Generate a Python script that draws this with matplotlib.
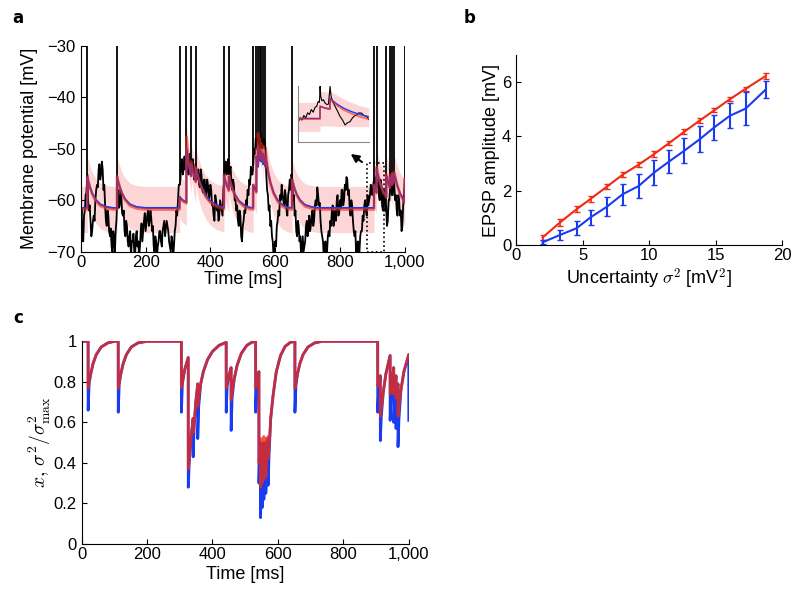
import numpy as np
import matplotlib
matplotlib.use('Agg')
import matplotlib.pyplot as plt
from matplotlib.patches import Rectangle

plt.rcParams['font.family'] = ['Liberation Sans', 'DejaVu Sans']
plt.rcParams['mathtext.fontset'] = 'cm'
plt.rcParams['xtick.direction'] = 'in'
plt.rcParams['ytick.direction'] = 'in'
plt.rcParams['xtick.labelsize'] = 12
plt.rcParams['ytick.labelsize'] = 12
plt.rcParams['xtick.major.pad'] = 2.5

# spike times [ms]
spike_t = [20, 112, 305, 326, 341, 355, 442, 457, 532, 542, 547, 552, 557, 563, 570,
           652, 905, 913, 943, 954, 961, 967, 1000]

# membrane potential, samples at 0, 5, ..., 1000 ms
vm_t = list(range(0, 1001, 5))
vm = [-64, -67, -63, -59, -55, -62, -64, -66, -63, -60, -57, -54, -56, -52.5, -58, -61, -65, -63, -67, -69,
      -66, -71, -64, -58, -61, -59, -63, -66, -64, -68, -67, -71, -68, -70, -67, -69, -71, -66, -68, -64,
      -66, -63, -65, -62, -66, -69, -67, -71, -68, -66, -69, -65, -67, -64, -66, -69, -67, -71, -66, -62,
      -60, -57, -53, -55, -51.5, -52, -54, -51, -55, -52, -56, -53, -55, -57, -54, -58, -56, -59, -56, -60,
      -57, -61, -63, -59, -62, -64, -60, -62, -58, -53, -55, -52, -54, -57, -56, -60, -62, -64, -62, -67,
      -65, -62, -60, -58, -56, -53.5, -55, -50, -48, -47, -49, -47, -50, -48, -50, -58, -62, -65, -67, -71,
      -68, -65, -62, -59, -57, -60, -58, -62, -59, -56, -55, -60, -63, -66, -64, -68, -71, -67, -69, -65,
      -67, -63, -65, -62, -64, -60, -57.5, -61, -64, -67, -71, -68, -70, -66, -64, -62, -65, -62, -60, -63,
      -60, -58, -61, -57, -55.5, -59, -62, -60, -64, -67, -71, -68, -70, -66, -63, -61, -62, -59, -60, -57,
      -59, -56, -58, -55, -59, -56, -61, -58, -62, -65, -60, -57, -59, -56, -60, -62, -59, -63, -66, -61,
      -56]
# samples in between, at 2.5, 7.5, ..., 997.5 ms
vm_mid = [-61.5, -68, -62, -58.5, -60, -61, -67, -64, -64, -58, -57.5, -53, -55, -54, -57, -64, -62, -66, -65.5, -70,
          -67, -66, -60, -61.5, -58, -62.5, -62, -67, -65, -69, -66, -68, -66.5, -71, -66, -68, -69, -64.5, -66, -62.5,
          -64.5, -62, -64, -63.5, -65, -70, -68, -69, -66, -68, -66, -64, -65.5, -65, -68, -70, -68, -69, -65, -63,
          -57, -56, -52, -54, -54, -52, -55, -53, -54, -53, -55.5, -56, -54, -57.5, -55, -58.5, -56, -58.5, -57, -59,
          -58, -61, -64, -60, -61, -63, -61, -63, -56, -52.5, -54.5, -55, -53.5, -58, -57, -60, -61, -65, -63, -68,
          -64, -62.5, -61, -59, -57, -55, -53, -51, -50, -48, -50, -48.5, -49.5, -49, -55, -59, -61, -64, -68, -69,
          -69, -64, -63, -60, -59, -61, -59, -63, -58, -58, -56, -59, -62, -67, -65, -67, -69, -70, -68, -64,
          -66, -66, -63, -65, -61, -61, -59, -60.5, -66, -68, -69, -71, -67, -67, -65, -61, -63, -64, -59, -62.5,
          -61.5, -58, -60, -58, -56, -58, -63, -61, -66, -66, -69, -71, -67, -66, -64, -60, -63, -61, -59, -58.5,
          -57, -55.5, -57.5, -56, -60, -57, -62, -59, -61, -64, -60, -56, -59, -57, -59, -63, -60, -62, -65, -59]

# filter output: time grid, mean (blue/red) in panel a, x and sigma^2/sigma^2_max in panel c
filt_t = [0, 19.9, 20, 23, 28, 35, 45, 60, 80, 100, 111.9, 112, 115, 120, 127, 137, 152, 172, 200,
          304.9, 305, 308, 315, 325.9, 326, 329, 334, 340.9, 341, 344, 349, 354.9, 355, 358, 364, 372,
          385, 400, 420, 441.9, 442, 445, 450, 456.9, 457, 460, 466, 475, 488, 505, 520, 531.9, 532, 535,
          541.9, 542, 544, 546.9, 547, 549, 551.9, 552, 554, 556.9, 557, 559, 562.9, 563, 565, 569.9, 570,
          573, 578, 585, 595, 608, 622, 638, 651.9, 652, 655, 660, 667, 677, 692, 712, 735, 904.9, 905,
          908, 912.9, 913, 916, 922, 930, 942.9, 943, 946, 950, 953.9, 954, 957, 960.9, 961, 964, 966.9,
          967, 970, 976, 985, 999.9, 1000]
mean_blue = [-61.5, -61.5, -55.6, -56.3, -57.4, -58.6, -59.8, -60.8, -61.3, -61.5, -61.5, -55.6, -56.3,
             -57.4, -58.6, -59.8, -60.8, -61.3, -61.5, -61.5, -59.3, -59.6, -60.0, -60.4, -50.0, -51.5,
             -53.5, -55.3, -53.0, -53.8, -55.0, -56.3, -53.8, -54.5, -55.8, -57.3, -59.0, -60.2, -61.0,
             -61.4, -55.3, -56.0, -57.0, -58.0, -55.4, -56.1, -57.4, -58.8, -60.1, -61.0, -61.4, -61.5,
             -57.0, -57.5, -58.3, -51.5, -52.5, -53.5, -49.5, -50.8, -52.3, -50.0, -51.0, -52.5, -50.5,
             -51.5, -53.0, -51.0, -51.8, -53.5, -51.5, -52.5, -54.5, -56.5, -58.5, -60.0, -60.9, -61.4,
             -61.5, -56.1, -56.8, -57.8, -58.9, -60.0, -60.9, -61.3, -61.5, -61.5, -57.2, -57.8, -58.5,
             -54.0, -54.8, -56.3, -57.8, -59.3, -55.3, -56.0, -56.8, -57.5, -55.5, -56.2, -57.0, -55.0,
             -55.8, -56.5, -54.8, -55.5, -57.0, -58.6, -60.3, -56.0]
mean_red = [-61.8, -61.8, -55.4, -56.2, -57.4, -58.8, -60.0, -61.1, -61.6, -61.8, -61.8, -55.4, -56.2,
            -57.4, -58.8, -60.0, -61.1, -61.6, -61.8, -61.8, -59.5, -59.8, -60.2, -60.6, -47.7, -50.0,
            -53.0, -55.3, -52.5, -53.5, -55.0, -56.5, -53.5, -54.4, -56.0, -57.6, -59.3, -60.5, -61.3,
            -61.7, -55.1, -55.9, -57.0, -58.2, -55.2, -56.1, -57.5, -59.0, -60.4, -61.3, -61.7, -61.8,
            -57.0, -57.5, -58.5, -50.0, -51.5, -53.0, -47.0, -49.5, -51.5, -48.0, -49.8, -52.0, -49.0,
            -50.5, -52.5, -49.5, -51.0, -53.3, -50.5, -52.0, -54.5, -56.7, -58.7, -60.3, -61.2, -61.7,
            -61.8, -56.0, -56.7, -57.9, -59.1, -60.2, -61.2, -61.6, -61.8, -61.8, -57.0, -57.8, -58.6,
            -53.5, -54.5, -56.3, -58.0, -59.5, -55.0, -55.8, -56.8, -57.6, -55.2, -56.1, -57.0, -54.8,
            -55.6, -56.5, -54.5, -55.3, -57.0, -58.8, -60.6, -55.8]
x_red = [1, 1, .77, .80, .84, .89, .935, .972, .992, 1, 1, .77, .80, .84, .89, .935, .972, .992, 1,
         1, .77, .80, .86, .92, .37, .42, .52, .62, .55, .60, .70, .79, .68, .72, .79, .85,
         .91, .95, .98, .995, .77, .80, .83, .87, .71, .75, .81, .88, .94, .98, .995, 1, .77, .80,
         .85, .40, .45, .52, .28, .36, .50, .30, .40, .53, .32, .42, .52, .33, .42, .53, .42,
         .48, .62, .73, .85, .93, .975, .995, 1, .77, .80, .84, .89, .935, .972, .992, 1, 1, .78,
         .80, .83, .63, .67, .75, .84, .93, .74, .77, .82, .87, .74, .78, .83, .72, .76, .79,
         .63, .68, .76, .85, .935, .93]
s_blue = [1, 1, .66, .79, .84, .89, .935, .972, .992, 1, 1, .65, .79, .84, .89, .935, .972, .992, 1,
          1, .65, .79, .86, .92, .28, .40, .52, .62, .43, .58, .70, .79, .52, .68, .79, .85,
          .91, .95, .98, .995, .65, .78, .83, .87, .56, .72, .81, .88, .94, .98, .995, 1, .65, .78,
          .85, .30, .42, .50, .13, .30, .48, .18, .33, .50, .22, .36, .50, .25, .36, .52, .29,
          .44, .62, .73, .85, .93, .975, .995, 1, .65, .78, .84, .89, .935, .972, .992, 1, 1, .65,
          .76, .83, .51, .63, .75, .84, .93, .61, .73, .82, .87, .60, .72, .83, .57, .70, .79,
          .48, .62, .76, .85, .935, .61]
sigma2_max = 20.0  # mV^2

# inset (zoom of dotted box)
ins_t = [887.7, 889, 890.5, 892, 893.5, 895, 896.5, 898, 899.5, 901, 902.3, 903.5, 904.5, 905, 905.5,
         906.5, 907.7, 909, 910.5, 911.7, 913, 913.8, 915, 917, 919, 921, 923, 925, 927, 929, 931,
         933, 934.3, 936, 938.3, 940, 942.3, 944]
ins_v = [-63.7, -62.5, -63.2, -61.8, -62.6, -61.0, -61.5, -60.0, -60.8, -59.3, -59.0, -57.5, -57.8,
         -52.9, -56.0, -57.3, -57.0, -58.0, -58.5, -58.3, -52.9, -56.0, -57.5, -59.0, -60.5, -62.1,
         -63.2, -64.7, -64.0, -63.7, -62.5, -61.8, -61.6, -61.0, -61.1, -61.8, -62.1, -63.0]
ins_ft = [887.7, 904.9, 905, 909, 912.9, 913, 918, 924, 930, 937, 944]
ins_blue = [-62.7, -62.7, -59.0, -59.5, -59.8, -56.6, -58.2, -59.6, -60.6, -61.5, -62.2]
ins_red = [-62.9, -62.9, -59.0, -59.6, -59.9, -56.8, -58.6, -60.1, -61.2, -62.2, -62.9]
ins_up = [-57.8, -57.8, -54.4, -54.6, -54.8, -54.4, -55.5, -56.8, -57.8, -58.8, -59.5]
ins_lo = [-66.7, -66.7, -65.0, -65.0, -65.0, -65.0, -65.1, -65.2, -65.2, -65.2, -65.2]

# panel b
unc = [2.0, 3.3, 4.55, 5.6, 6.85, 8.0, 9.2, 10.37, 11.5, 12.65, 13.8, 14.9, 16.05, 17.25, 18.75]
epsp_red = [0.28, 0.83, 1.32, 1.70, 2.16, 2.59, 2.96, 3.35, 3.76, 4.18, 4.59, 4.97, 5.37, 5.76, 6.23]
err_red = [0.08, 0.12, 0.1, 0.1, 0.1, 0.1, 0.1, 0.1, 0.08, 0.08, 0.08, 0.08, 0.08, 0.07, 0.1]
epsp_blue = [0.10, 0.37, 0.62, 1.02, 1.42, 1.87, 2.17, 2.67, 3.08, 3.48, 3.90, 4.34, 4.76, 5.03, 5.73]
err_blue = [0.07, 0.2, 0.25, 0.27, 0.35, 0.38, 0.44, 0.46, 0.43, 0.46, 0.49, 0.46, 0.46, 0.6, 0.31]

blue = '#1a3cf0'
red = '#f02a14'
pink = '#fcd6d6'
time_ticks = [0, 200, 400, 600, 800, 1000]
time_labels = ['0', '200', '400', '600', '800', '1,000']

fig = plt.figure(figsize=(8, 5.9), dpi=100)

# ---- a
ax = fig.add_axes([0.101, 0.5734, 0.405, 0.349])
ft = np.array(filt_t)
mr = np.array(mean_red)
sd = np.sqrt(np.array(s_blue) * sigma2_max)
ax.fill_between(ft, mr - sd, mr + sd, color=pink, lw=0)
trace_t = np.column_stack([vm_t[:-1], np.array(vm_t[:-1]) + 2.5]).ravel().tolist() + [vm_t[-1]]
trace_v = np.column_stack([vm[:-1], vm_mid]).ravel().tolist() + [vm[-1]]
ax.plot(trace_t, trace_v, color='k', lw=1.3)
ax.vlines(spike_t, np.interp(spike_t, trace_t, trace_v), -20, color='k', lw=1.3)
ax.plot(filt_t, mean_blue, color=blue, lw=1.4)
ax.plot(filt_t, mean_red, color=red, lw=2, alpha=0.6)
ax.add_patch(Rectangle((884, -70), 51, 17.3, fill=False, ls=':', lw=1.2, ec='k', clip_on=False))
ax.annotate('', xy=(826, -50.7), xytext=(875, -52.9),
            arrowprops=dict(arrowstyle='-|>', color='k', lw=1.5, mutation_scale=12))
ax.set_xlim(0, 1000)
ax.set_ylim(-70, -30)
ax.set_xticks(time_ticks)
ax.set_xticklabels(time_labels)
ax.set_yticks([-70, -60, -50, -40, -30])
ax.spines['top'].set_visible(False)
ax.spines['right'].set_visible(False)
ax.set_xlabel('Time [ms]', fontsize=13, va='center')
ax.xaxis.set_label_coords(0.5, -0.135)
ax.set_ylabel('Membrane potential [mV]', fontsize=13, va='center')
ax.yaxis.set_label_coords(-0.157, 0.5)

# inset
axi = fig.add_axes([0.372, 0.7588, 0.089, 0.0954])
axi.fill_between(ins_ft, ins_lo, ins_up, color=pink, lw=0)
axi.plot(ins_t, ins_v, color='k', lw=0.8)
axi.plot(ins_ft, ins_blue, color=blue, lw=1.0)
axi.plot(ins_ft, ins_red, color=red, lw=1.4, alpha=0.6)
axi.set_xlim(887, 944)
axi.set_ylim(-70, -52.8)
axi.set_xticks([])
axi.set_yticks([])
axi.patch.set_alpha(0)
axi.spines['top'].set_visible(False)
axi.spines['right'].set_visible(False)
axi.spines['left'].set_color('#888888')
axi.spines['bottom'].set_color('#888888')

# ---- b
axb = fig.add_axes([0.645, 0.5847, 0.333, 0.322])
axb.errorbar(unc, epsp_red, yerr=err_red, color=red, lw=1.5, capsize=2, elinewidth=1.2)
axb.errorbar(unc, epsp_blue, yerr=err_blue, color=blue, lw=1.5, capsize=2, elinewidth=1.5)
axb.set_xlim(0, 20)
axb.set_ylim(0, 7)
axb.set_xticks([0, 5, 10, 15, 20])
axb.set_yticks([0, 2, 4, 6])
axb.spines['top'].set_visible(False)
axb.spines['right'].set_visible(False)
axb.set_xlabel(r'Uncertainty $\sigma^2$ [mV$^2$]', fontsize=13, va='center')
axb.xaxis.set_label_coords(0.5, -0.175)
axb.set_ylabel('EPSP amplitude [mV]', fontsize=13, va='center')
axb.yaxis.set_label_coords(-0.091, 0.5)

# ---- c
axc = fig.add_axes([0.102, 0.078, 0.409, 0.3435])
axc.plot(filt_t, s_blue, color=blue, lw=2)
axc.plot(filt_t, x_red, color=red, lw=2, alpha=0.8)
axc.set_xlim(0, 1000)
axc.set_ylim(0, 1)
axc.set_xticks(time_ticks)
axc.set_xticklabels(time_labels)
axc.set_yticks([0, 0.2, 0.4, 0.6, 0.8, 1])
axc.set_yticklabels(['0', '0.2', '0.4', '0.6', '0.8', '1'])
axc.spines['top'].set_visible(False)
axc.spines['right'].set_visible(False)
axc.set_xlabel('Time [ms]', fontsize=13, va='center')
axc.xaxis.set_label_coords(0.5, -0.15)
axc.set_ylabel(r'$x,\, \sigma^2/\sigma^2_{\max}$', fontsize=14, va='center')
axc.yaxis.set_label_coords(-0.127, 0.5)

fig.text(0.0225, 0.969, 'a', fontsize=12, weight='bold', family='DejaVu Sans', ha='center', va='center')
fig.text(0.5875, 0.969, 'b', fontsize=12, weight='bold', family='DejaVu Sans', ha='center', va='center')
fig.text(0.0225, 0.461, 'c', fontsize=12, weight='bold', family='DejaVu Sans', ha='center', va='center')

fig.savefig('out.png', dpi=100)
